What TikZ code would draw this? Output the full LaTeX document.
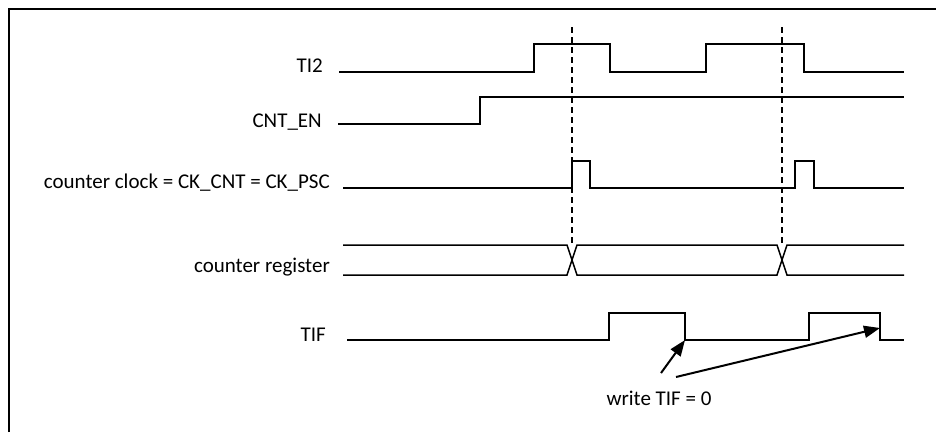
\documentclass[tikz,border=0pt]{standalone}
\usepackage{fontspec}
\setmainfont{Carlito}
\usetikzlibrary{arrows.meta}
\begin{document}
\begin{tikzpicture}[x=1pt,y=-1pt,every node/.style={inner sep=0pt,font=\fontsize{21}{25}\selectfont},
  sig/.style={line width=2pt},
  bus/.style={line width=1.5pt},
  mark line/.style={line width=1.6pt,dash pattern=on 6pt off 4pt},
  ptr/.style={line width=2pt,-{Triangle[length=16pt,width=12pt]}}]

\useasboundingbox (0,0) rectangle (936,432);
\draw[line width=2pt] (9,432) -- (9,9) -- (936,9);

\node[anchor=base east] (ti2) at (323,72) {TI2};
\node[anchor=base east] (en) at (322,127) {CNT\_EN};
\node[anchor=base east] (clk) at (330,188) {counter clock = CK\_CNT = CK\_PSC};
\node[anchor=base east] (reg) at (330,272) {counter register};
\node[anchor=base east] (tif) at (326,341) {TIF};
\node[anchor=base] (wr) at (659,405) {write TIF = 0};

\draw[sig] (339,72) -- (534,72) |- (610,44) |- (706,72) |- (804,44) |- (904,72);
\draw[sig] (338,124) -- (480,124) |- (904,97);
\draw[sig] (343,188) -- (572,188) |- (590,161) |- (795,188) |- (814,161) |- (904,188);
\draw[bus] (343,245) -- (567,245) -- (577,275) -- (777,275) -- (787,245) -- (904,245);
\draw[bus] (343,275) -- (567,275) -- (577,245) -- (777,245) -- (787,275) -- (904,275);
\draw[sig] (347,340) -- (609,340) |- (685,313) |- (809,340) |- (880,313) |- (904,340);

\foreach \x in {572,782}
  \draw[mark line] (\x,27) -- (\x,245);

\coordinate (f1) at (685,340);
\coordinate (f2) at (880,328);
\coordinate (a1) at (661,373);
\coordinate (a2) at (676,377);
\draw[ptr] (a1) -- (f1);
\draw[ptr] (a2) -- (f2);

\end{tikzpicture}
\end{document}
